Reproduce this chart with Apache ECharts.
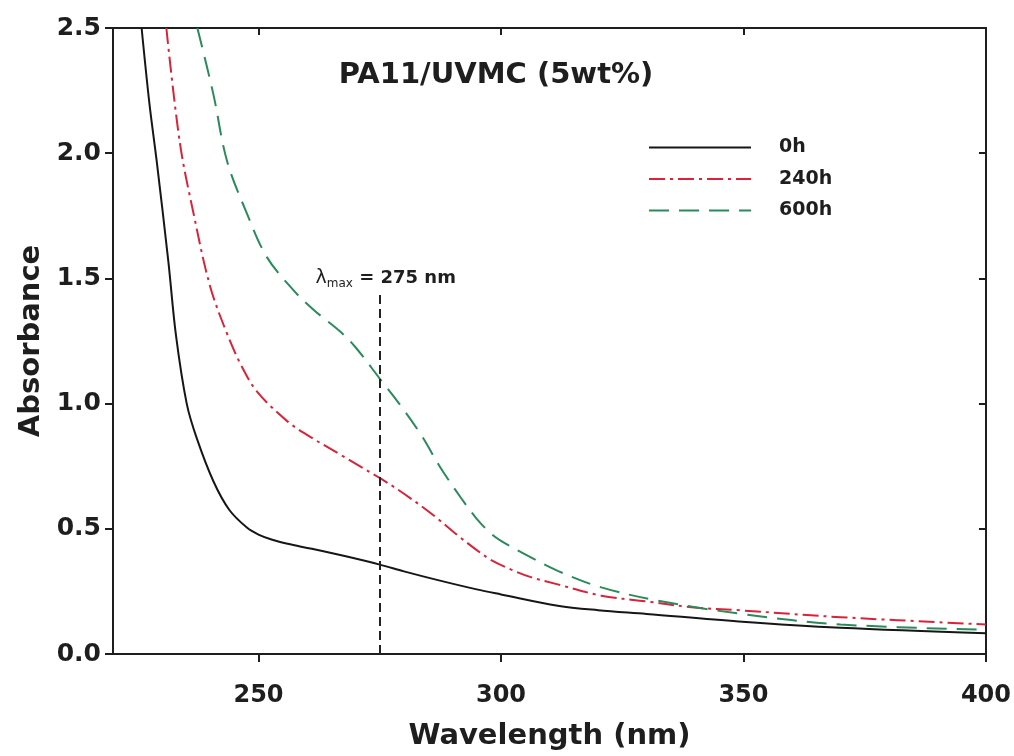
<!DOCTYPE html>
<html>
<head>
<meta charset="utf-8">
<script src="https://cdn.jsdelivr.net/npm/echarts@6/dist/echarts.min.js"></script>
<style>html,body{margin:0;padding:0;background:#fff}#c{width:1014px;height:756px}</style>
</head>
<body>
<div id="c"></div>
<script>
// ---- data ----
const titleText = 'PA11/UVMC (5wt%)';
const seriesNames = ['0h', '240h', '600h'];
const xTicks = [250, 300, 350, 400];
const yTicks = [0, 0.5, 1.0, 1.5, 2.0, 2.5];
const lambdaMax = 275;
const lambdaLineTop = 1.45;

const wl0h = [225.9, 227.5, 229, 231.4, 233, 235.2, 237.3, 240.7, 244, 247.6, 250, 253, 256, 261, 268, 275, 280, 287, 295, 300, 311.7, 320, 330, 349, 370, 400];
const abs0h = [2.5, 2.2, 1.97, 1.57, 1.27, 1.0, 0.86, 0.69, 0.575, 0.505, 0.477, 0.455, 0.44, 0.42, 0.39, 0.357, 0.33, 0.295, 0.258, 0.238, 0.193, 0.175, 0.16, 0.13, 0.105, 0.083];

const wl240h = [231, 233.8, 236.6, 240, 243.5, 246.5, 249.7, 255.9, 260, 266.9, 270, 275, 280, 286, 291, 295, 298, 302, 306, 311.7, 320.7, 330, 339.3, 349.6, 370, 400];
const abs240h = [2.5, 2.04, 1.76, 1.47, 1.28, 1.15, 1.048, 0.93, 0.875, 0.796, 0.76, 0.703, 0.64, 0.555, 0.475, 0.415, 0.375, 0.338, 0.308, 0.278, 0.233, 0.21, 0.187, 0.174, 0.147, 0.118];

const wl600h = [237.4, 240.7, 243.5, 247.6, 251.7, 257.2, 261.4, 266.9, 270, 275, 279, 283.5, 287.5, 291.7, 295, 298, 300, 304.8, 311.7, 320.7, 332.4, 349.6, 370, 400];
const abs600h = [2.5, 2.235, 1.97, 1.76, 1.586, 1.453, 1.374, 1.287, 1.225, 1.10, 1.0, 0.876, 0.745, 0.625, 0.54, 0.48, 0.452, 0.4, 0.332, 0.266, 0.213, 0.16, 0.118, 0.097];

const pair = (xs, ys) => xs.map((x, i) => [x, ys[i]]);

const FONT = 'DejaVu Sans';
const INK = '#1e1e1e';

const chart = echarts.init(document.getElementById('c'), null, {renderer: 'canvas'});

const frameLine = {show: true, onZero: false, lineStyle: {color: INK, width: 2}};

const option = {
  animation: false,
  backgroundColor: '#fff',
  title: {
    text: titleText,
    left: 491, top: 56, textAlign: 'center',
    textStyle: {fontFamily: FONT, fontWeight: 'bold', fontSize: 29, color: INK}
  },
  legend: {
    orient: 'vertical',
    left: 648, top: 138, padding: 0,
    itemWidth: 102, itemHeight: 14, itemGap: 12.5,
    itemStyle: {opacity: 0},
    textStyle: {fontFamily: FONT, fontWeight: 'bold', fontSize: 19, color: INK, padding: [0, 0, 0, 23]},
    data: seriesNames
  },
  grid: {left: 113, right: 28, top: 28, bottom: 99, containLabel: false},
  xAxis: [{
    type: 'value', min: 220, max: 400, position: 'bottom',
    name: 'Wavelength (nm)', nameLocation: 'middle', nameGap: 68,
    nameTextStyle: {fontFamily: FONT, fontWeight: 'bold', fontSize: 29, color: INK},
    axisLine: frameLine,
    axisTick: {show: true, inside: false, length: 8, customValues: xTicks, lineStyle: {color: INK, width: 2}},
    axisLabel: {customValues: xTicks, margin: 30, fontFamily: FONT, fontWeight: 'bold', fontSize: 24, color: INK},
    splitLine: {show: false}
  }, {
    type: 'value', min: 220, max: 400, position: 'top',
    axisLine: frameLine,
    axisTick: {show: true, inside: true, length: 7, customValues: xTicks, lineStyle: {color: INK, width: 2}},
    axisLabel: {show: false},
    splitLine: {show: false}
  }],
  yAxis: [{
    type: 'value', min: 0, max: 2.5, interval: 0.5, position: 'left',
    name: 'Absorbance', nameLocation: 'middle', nameGap: 66,
    nameTextStyle: {fontFamily: FONT, fontWeight: 'bold', fontSize: 29, color: INK},
    axisLine: frameLine,
    axisTick: {show: true, inside: false, length: 8, lineStyle: {color: INK, width: 2}},
    axisLabel: {margin: 12, fontFamily: FONT, fontWeight: 'bold', fontSize: 25, color: INK,
      formatter: v => v.toFixed(1)},
    splitLine: {show: false}
  }, {
    type: 'value', min: 0, max: 2.5, interval: 0.5, position: 'right',
    axisLine: frameLine,
    axisTick: {show: true, inside: true, length: 7, lineStyle: {color: INK, width: 2}},
    axisLabel: {show: false},
    splitLine: {show: false}
  }],
  series: [{
    name: seriesNames[0], type: 'line', xAxisIndex: 0, yAxisIndex: 0,
    data: pair(wl0h, abs0h), showSymbol: false, symbol: 'none',
    smooth: 0.35,
    lineStyle: {color: '#161616', width: 2, type: 'solid'},
    itemStyle: {color: '#161616'},
    z: 3,
    markLine: {
      silent: true, symbol: ['none', 'none'],
      lineStyle: {color: '#222', width: 2, type: [9, 5]},
      label: {
        show: true, position: 'end', distance: -8,
        formatter: '{l|λ}{s|max}{t| = ' + lambdaMax + ' nm}',
        padding: [0, 0, 0, 12],
        rich: {
          l: {fontFamily: FONT, fontSize: 19, color: INK, lineHeight: 20, verticalAlign: 'top'},
          s: {fontFamily: FONT, fontSize: 12, color: INK, lineHeight: 30},
          t: {fontFamily: FONT, fontWeight: 'bold', fontSize: 18, color: INK, lineHeight: 20, verticalAlign: 'top'}
        }
      },
      data: [[{coord: [lambdaMax, 0]}, {coord: [lambdaMax, lambdaLineTop]}]]
    }
  }, {
    name: seriesNames[1], type: 'line', xAxisIndex: 0, yAxisIndex: 0,
    data: pair(wl240h, abs240h), showSymbol: false, symbol: 'none',
    smooth: 0.35,
    lineStyle: {color: '#d8233a', width: 2, type: [16, 5, 3, 5]},
    itemStyle: {color: '#d8233a'},
    z: 2
  }, {
    name: seriesNames[2], type: 'line', xAxisIndex: 0, yAxisIndex: 0,
    data: pair(wl600h, abs600h), showSymbol: false, symbol: 'none',
    smooth: 0.35,
    lineStyle: {color: '#2b8a5c', width: 2, type: [20, 10]},
    itemStyle: {color: '#2b8a5c'},
    z: 2
  }]
};
chart.setOption(option);
</script>
</body>
</html>
